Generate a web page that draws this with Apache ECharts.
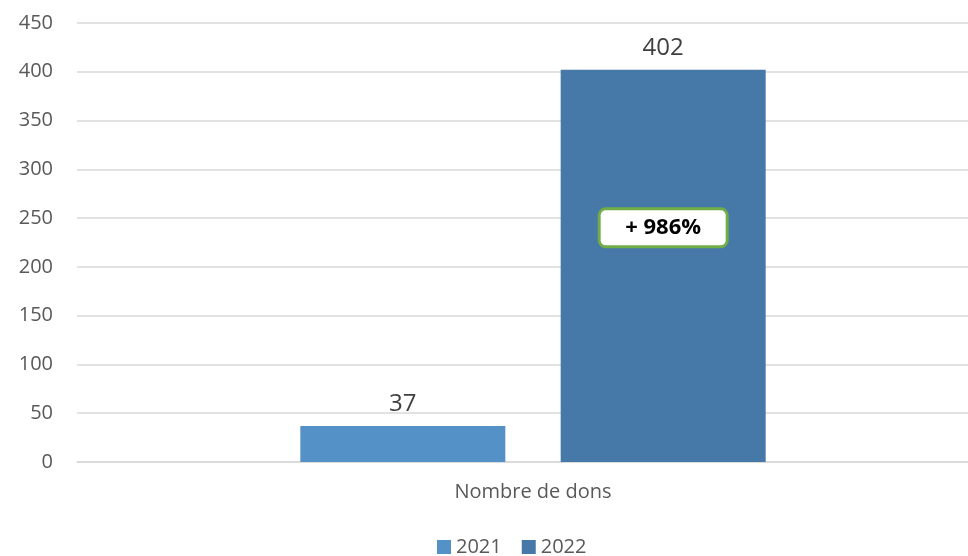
<!DOCTYPE html>
<html>
<head>
<meta charset="utf-8">
<script src="https://cdn.jsdelivr.net/npm/echarts@6/dist/echarts.min.js"></script>
<style>
  html, body { margin: 0; padding: 0; background: #fff; }
  #chart { width: 968px; height: 556px; }
</style>
</head>
<body>
<div id="chart"></div>
<script>
const categories = ['Nombre de dons'];
const years = ['2021', '2022'];
const values2021 = [37];
const values2022 = [402];
const yTicks = { min: 0, max: 450, interval: 50 };

const growth = Math.round((values2022[0] - values2021[0]) / values2021[0] * 100);
const fontFamily = '"Open Sans", "Liberation Sans", sans-serif';

const chart = echarts.init(document.getElementById('chart'));

const barLabel = {
    show: true,
    position: 'top',
    distance: 10,
    fontSize: 24,
    color: '#404040',
    fontFamily: fontFamily
};

chart.setOption({
    animation: false,
    textStyle: { fontFamily: fontFamily },
    // grid 0 carries the gridlines and value labels, grid 1 the bars (category centre sits right of the middle)
    grid: [
        { left: 77, right: 0, top: 23, bottom: 94 },
        { left: 98, right: 0, top: 23, bottom: 94 }
    ],
    legend: {
        data: years,
        left: 432,
        top: 532,
        itemWidth: 14,
        itemHeight: 14,
        itemGap: 20,
        icon: 'rect',
        textStyle: { fontSize: 20, color: '#595959', fontFamily: fontFamily }
    },
    xAxis: [
        {
            gridIndex: 0,
            type: 'category',
            data: categories,
            axisTick: { show: false },
            axisLine: { show: true, lineStyle: { color: '#d9d9d9', width: 1.5 } },
            axisLabel: { show: false }
        },
        {
            gridIndex: 1,
            type: 'category',
            data: categories,
            axisTick: { show: false },
            axisLine: { show: false },
            axisLabel: { fontSize: 20, color: '#595959', margin: 20 }
        }
    ],
    yAxis: [
        {
            gridIndex: 0,
            type: 'value',
            min: yTicks.min,
            max: yTicks.max,
            interval: yTicks.interval,
            axisLine: { show: false },
            axisTick: { show: false },
            splitLine: { lineStyle: { color: '#d9d9d9', width: 1.5 } },
            axisLabel: { fontSize: 20, color: '#595959', margin: 24 }
        },
        {
            gridIndex: 1,
            type: 'value',
            min: yTicks.min,
            max: yTicks.max,
            interval: yTicks.interval,
            show: false
        }
    ],
    series: [
        {
            name: years[0],
            type: 'bar',
            xAxisIndex: 1,
            yAxisIndex: 1,
            data: values2021,
            barWidth: 205,
            barGap: '27%',
            itemStyle: { color: '#5391c7' },
            label: barLabel
        },
        {
            name: years[1],
            type: 'bar',
            xAxisIndex: 1,
            yAxisIndex: 1,
            data: values2022,
            barWidth: 205,
            barGap: '27%',
            itemStyle: { color: '#4678a8' },
            label: barLabel,
            markPoint: {
                symbol: 'circle',
                symbolSize: 0,
                label: {
                    show: true,
                    position: 'inside',
                    formatter: '+ ' + growth + '%',
                    fontSize: 22,
                    fontWeight: 'bold',
                    color: '#000000',
                    fontFamily: fontFamily,
                    backgroundColor: '#ffffff',
                    borderColor: '#70ad47',
                    borderWidth: 3,
                    borderRadius: 5,
                    width: 125,
                    height: 31,
                    lineHeight: 31,
                    align: 'center',
                    verticalAlign: 'middle',
                    padding: [2, 0]
                },
                data: [{ coord: [0, 240] }]
            }
        }
    ]
});
</script>
</body>
</html>
